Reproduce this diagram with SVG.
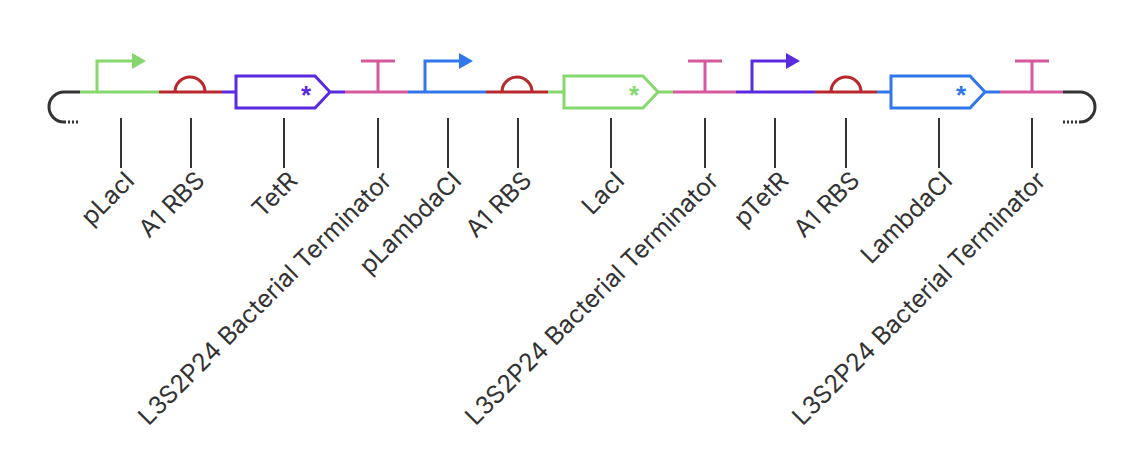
<svg xmlns="http://www.w3.org/2000/svg" width="1132" height="468" viewBox="0 0 1132 468">
<style>
.l{fill:none;stroke-width:3}
.g{stroke:#87d76f}.r{stroke:#b8282c}.p{stroke:#5a2ae0}.k{stroke:#d6589d}.b{stroke:#3176ea}.d{stroke:#333}
.t{font-family:Inter,"Liberation Sans",sans-serif;font-size:24.5px;fill:#333;text-anchor:end}
.tk{stroke:#333;stroke-width:2}
.s{font-family:"Liberation Sans",sans-serif;font-size:26px;font-weight:bold;text-anchor:middle}
</style>
<rect width="1132" height="468" fill="#fff"/>
<g id="backbone">
<path class="l d" d="M80,92 H64 A15,15 0 0 0 64,122"/>
<path class="l d" d="M64,122 H80" stroke-dasharray="2,2"/>
<path class="l d" d="M1063,92 H1080 A15,15 0 0 1 1080,122"/>
<path class="l d" d="M1063,122 H1080" stroke-dasharray="2,2"/>
</g>
<g id="pLacI"><path class="l g" d="M80,92 H159 M97,92 V61 H133"/><path d="M132,53 L146,61 L132,69 Z" fill="#87d76f"/></g>
<g id="rbs1"><path class="l r" d="M159,92 H222 M175,92 A15,15 0 0 1 205,92"/></g>
<g id="TetR"><path class="l p" d="M222,92 H236 M330,92 H345 M236,76 H315 L330,92 L315,108 H236 Z"/><text class="s" x="306" y="104" fill="#5a2ae0">*</text></g>
<g id="term1"><path class="l k" d="M345,92 H408 M378,92 V61 M361,61 H395"/></g>
<g id="pLambdaCI"><path class="l b" d="M408,92 H486 M425,92 V61 H460"/><path d="M459,53 L473,61 L459,69 Z" fill="#3176ea"/></g>
<g id="rbs2"><path class="l r" d="M486,92 H548 M502,92 A15,15 0 0 1 532,92"/></g>
<g id="LacI"><path class="l g" d="M548,92 H564 M658,92 H673 M564,76 H643 L658,92 L643,108 H564 Z"/><text class="s" x="634" y="104" fill="#87d76f">*</text></g>
<g id="term2"><path class="l k" d="M673,92 H736 M705,92 V61 M688,61 H722"/></g>
<g id="pTetR"><path class="l p" d="M736,92 H815 M752,92 V61 H787"/><path d="M786,53 L800,61 L786,69 Z" fill="#5a2ae0"/></g>
<g id="rbs3"><path class="l r" d="M815,92 H877 M831,92 A15,15 0 0 1 861,92"/></g>
<g id="LambdaCI"><path class="l b" d="M877,92 H891 M985,92 H1000 M891,76 H970 L985,92 L970,108 H891 Z"/><text class="s" x="961" y="104" fill="#3176ea">*</text></g>
<g id="term3"><path class="l k" d="M1000,92 H1063 M1032,92 V61 M1015,61 H1049"/></g>
<g id="connectors">
<path class="tk" d="M121,118V168 M191,118V168 M284,118V168 M378,118V168 M448,118V168 M518,118V168 M611,118V168 M705,118V168 M775,118V168 M846,118V168 M939,118V168 M1032,118V168"/>
</g>
<g id="labels">
<text class="t" transform="translate(136,182) rotate(-45)">pLacI</text>
<text class="t" transform="translate(206,182) rotate(-45)">A1 RBS</text>
<text class="t" transform="translate(299,182) rotate(-45)">TetR</text>
<text class="t" transform="translate(393,182) rotate(-45)">L3S2P24 Bacterial Terminator</text>
<text class="t" transform="translate(463,182) rotate(-45)">pLambdaCI</text>
<text class="t" transform="translate(533,182) rotate(-45)">A1 RBS</text>
<text class="t" transform="translate(626,182) rotate(-45)">LacI</text>
<text class="t" transform="translate(720,182) rotate(-45)">L3S2P24 Bacterial Terminator</text>
<text class="t" transform="translate(790,182) rotate(-45)">pTetR</text>
<text class="t" transform="translate(861,182) rotate(-45)">A1 RBS</text>
<text class="t" transform="translate(954,182) rotate(-45)">LambdaCI</text>
<text class="t" transform="translate(1047,182) rotate(-45)">L3S2P24 Bacterial Terminator</text>
</g>
</svg>
